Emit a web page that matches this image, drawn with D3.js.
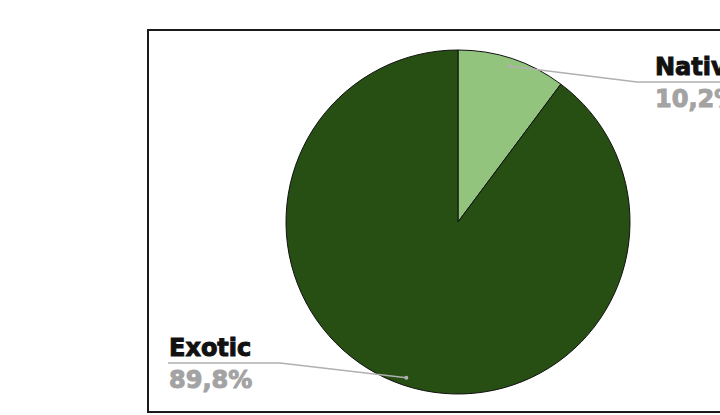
<!DOCTYPE html>
<html>
<head>
<meta charset="utf-8">
<script src="https://cdn.jsdelivr.net/npm/d3@7"></script>
<style>
  body { margin: 0; background: #fff; }
  svg { display: block; }
</style>
</head>
<body>
<div id="chart"></div>
<script>
// data
const categories = ["Native", "Exotic"];
const values = [10.2, 89.8];
const valueLabels = ["10,2%", "89,8%"];
const colors = ["#93c47d", "#274e13"];

const w = 720, h = 415;
const cx = 458, cy = 222, radius = 172;

const svg = d3.select("#chart").append("svg")
    .attr("width", w)
    .attr("height", h);

// frame (runs off the right edge)
svg.append("rect")
    .attr("x", 148).attr("y", 30)
    .attr("width", 600).attr("height", 382)
    .attr("fill", "none")
    .attr("stroke", "#1a1a1a")
    .attr("stroke-width", 2);

const pie = d3.pie().sort(null).value(d => d)(values);
const arc = d3.arc().innerRadius(0).outerRadius(radius);
const pointArc = d3.arc().innerRadius(164).outerRadius(164);

const g = svg.append("g").attr("transform", "translate(" + cx + "," + cy + ")");

g.selectAll("path.slice")
    .data(pie).enter().append("path")
    .attr("class", "slice")
    .attr("d", arc)
    .attr("fill", (d, i) => colors[i])
    .attr("stroke", "#111")
    .attr("stroke-width", 1);

// leader lines: point in slice -> bend -> horizontal under the label
const label = [
    { bend: [637 - cx, 82 - cy], end: 760 - cx, tx: 655 - cx },
    { bend: [280 - cx, 363 - cy], end: 168 - cx, tx: 169 - cx }
];

pie.forEach((d, i) => {
    const p = pointArc.centroid(d);
    const L = label[i];
    g.append("polyline")
        .attr("points", [p, L.bend, [L.end, L.bend[1]]].map(q => q.join(",")).join(" "))
        .attr("fill", "none")
        .attr("stroke", "#b0b0b0")
        .attr("stroke-width", 1.5);
    g.append("circle")
        .attr("cx", p[0]).attr("cy", p[1]).attr("r", 2)
        .attr("fill", "#b0b0b0");

    g.append("text")
        .attr("x", L.tx).attr("y", L.bend[1] - 7)
        .style("font-family", "'DejaVu Sans', sans-serif")
        .style("font-weight", "bold")
        .style("font-size", "24px")
        .attr("fill", "#111")
        .attr("stroke", "#111")
        .attr("stroke-width", 1)
        .text(categories[i]);

    g.append("text")
        .attr("x", L.tx).attr("y", L.bend[1] + 25)
        .style("font-family", "'DejaVu Sans', sans-serif")
        .style("font-weight", "bold")
        .style("font-size", "24px")
        .attr("fill", "#a3a3a3")
        .attr("stroke", "#a3a3a3")
        .attr("stroke-width", 1)
        .text(valueLabels[i]);
});
</script>
</body>
</html>
